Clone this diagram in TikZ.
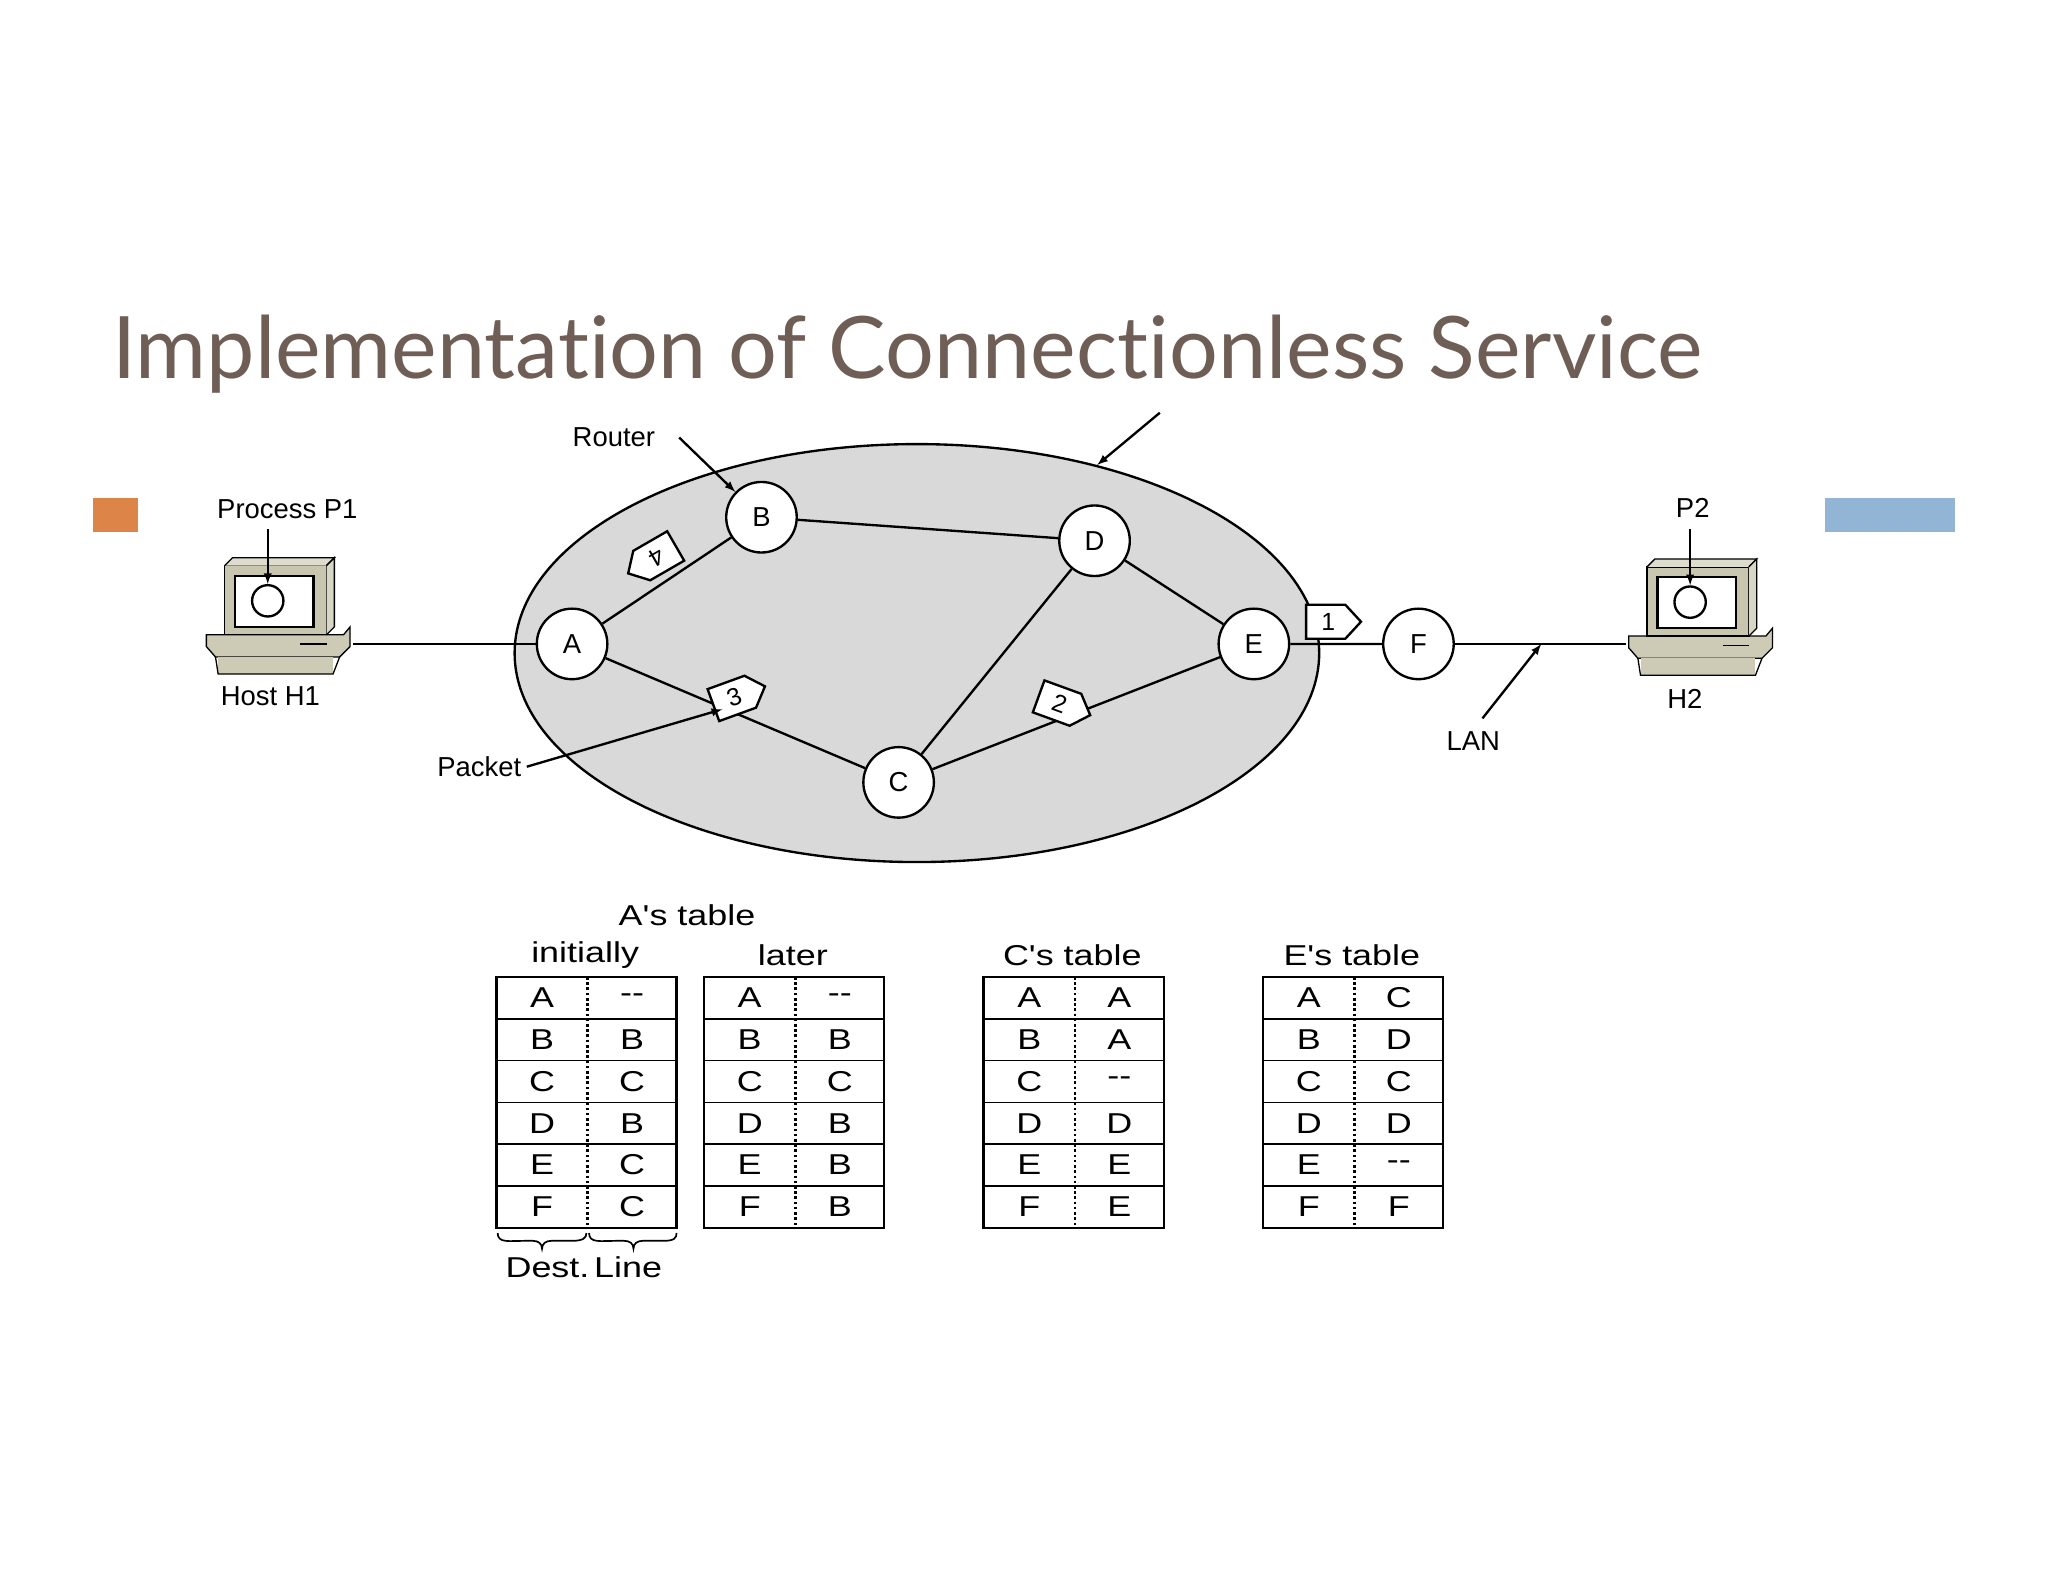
\documentclass[tikz,border=0pt]{standalone}
\usepackage{fontspec}
\setmainfont{Liberation Sans}
\newfontfamily\titlefont[Ligatures={NoCommon,NoRare,NoContextual}]{Lato}
\newfontfamily\widefont[FakeStretch=1.25]{Liberation Sans}
\begin{document}
\begin{tikzpicture}[x=1pt,y=-1pt,line width=1.8pt,
  rtr/.style={circle,draw,line width=1.8pt,fill=white,minimum size=54pt,inner sep=0pt,font=\fontsize{21}{21}\selectfont},
  lbl/.style={font=\fontsize{21}{21}\selectfont},
  tb/.style={font=\widefont\fontsize{22}{22}\selectfont},
  arr/.style={line width=1.8pt,-latex}]
\useasboundingbox (0,0) rectangle (1568,1211);
\definecolor{titlec}{HTML}{6F5E55}
\node[anchor=base west,inner sep=0,text=titlec,font=\titlefont\fontsize{66}{66}\selectfont] (title) at (85,290) {Implementation of Connectionless Service};
\fill[orange!70!brown!90!white] (71,381) rectangle (106,407);
\fill[blue!20!cyan!15!gray!55!white] (1397,381) rectangle (1497,407);
\definecolor{sq}{HTML}{DD8449}\fill[sq] (71,381) rectangle (106,407);
\definecolor{bq}{HTML}{93B5D5}\fill[bq] (1397,381) rectangle (1497,407);
\draw[fill=gray!30] (702,500) ellipse [x radius=308, y radius=160];
\node[rtr] (A) at (438,493) {A};
\node[rtr] (B) at (583,396) {B};
\node[rtr] (D) at (838,414) {D};
\node[rtr] (E) at (960,493) {E};
\node[rtr] (C) at (688,599) {C};
\node[rtr] (F) at (1086,493) {F};
\draw (A)--(B) (B)--(D) (D)--(E) (D)--(C) (A)--(C) (C)--(E) (E)--(F);
\newcommand{\computer}[3]{%
 \begin{scope}[shift={(#1,#2)},line width=1pt]
 \draw[fill=olive!25!gray!45] (-47,26)--(58,26)--(63,20)--(63,35)--(55,43)--(-40,43)--(-47,35)--cycle;
 \fill[olive!25!gray!45] (-38,43) rectangle (50,56);
 \draw (-40,43)--(-38,56)--(50,56)--(55,43);
 \draw (25,33)--(45,33);
 \draw[fill=olive!25!gray!50] (-33,-27) rectangle (45,26);
 \draw[fill=olive!25!gray!30] (-33,-27)--(-27,-33)--(51,-33)--(45,-27);
 \draw[fill=olive!25!gray!35] (45,-27)--(51,-33)--(51,20)--(45,26);
 \draw[fill=white,line width=1.8pt] (-25,-19) rectangle (35,20);
 \node[circle,draw,line width=1.8pt,minimum size=24pt,inner sep=0] (#3) at (0,0) {};
 \end{scope}}
\computer{205}{460}{s1}
\computer{1294}{461}{s2}
\coordinate (h1r) at (270,493);
\coordinate (h2l) at (1245,493);
\draw (h1r)--(A);
\draw (F)--(h2l);
\node[lbl] (p1) at (220,390) {Process P1};
\draw[arr] (205,405)--(s1);
\node[lbl] (hh1) at (207,533) {Host H1};
\node[lbl] (p2) at (1296,389) {P2};
\draw[arr] (1294,405)--(s2);
\node[lbl] (hh2) at (1290,535) {H2};
\newcommand{\packet}[4]{%
 \begin{scope}[shift={(#1,#2)},rotate=#3,transform shape]
 \draw[fill=white] (-20,-13)--(10,-13)--(22,0)--(10,13)--(-20,13)--cycle;
 \node[lbl,font=\fontsize{19}{19}\selectfont] at (-3,0) {#4};
 \end{scope}}
\packet{500}{428}{-150}{4}
\packet{565}{533}{20}{3}
\packet{814}{540}{-20}{2}
\packet{1020}{476}{0}{1}
\node[lbl] (router) at (470,335) {Router};
\draw[arr] (520,335)--(B);
\coordinate (sub1) at (888,316);
\coordinate (sub2) at (840,356);
\draw[arr] (sub1)--(sub2);
\node[lbl] (pkt) at (367,587) {Packet};
\coordinate (pk) at (553,543);
\draw[arr] (pkt.east)--(pk);
\node[lbl] (lan) at (1128,567) {LAN};
\coordinate (lanp) at (1180,493);
\draw[arr] (1135,550)--(lanp);
\newcommand{\rtable}[2]{%
 \begin{scope}[shift={(#1,748)}]
 \draw (0,0) rectangle (138,192);
 \foreach \i in {1,...,5} \draw[line width=1.2pt] (0,32*\i)--(138,32*\i);
 \draw[dotted,line width=2pt] (70,0)--(70,192);
 \foreach \d/\l [count=\k] in {#2} {
  \node[tb] at (35,32*\k-16) {\d};
  \node[tb] at (104,32*\k-16) {\l};}
 \end{scope}}
\rtable{380}{A/--,B/B,C/C,D/B,E/C,F/C}
\rtable{539}{A/--,B/B,C/C,D/B,E/B,F/B}
\rtable{753}{A/A,B/A,C/--,D/D,E/E,F/E}
\rtable{967}{A/C,B/D,C/C,D/D,E/--,F/F}
\node[tb] (ah) at (526,701) {A's table};
\node[tb] (ini) at (448,731) {initially};
\node[tb] (lat) at (607,731) {later};
\node[tb] (ch) at (821,731) {C's table};
\node[tb] (eh) at (1035,731) {E's table};
\begin{scope}[line width=1.3pt]
\draw (381,944) .. controls (381,952) and (390,950) .. (402,950) -- (408,950) .. controls (412,950) and (415,952) .. (415,956) .. controls (415,952) and (418,950) .. (422,950) -- (438,950) .. controls (446,950) and (449,948) .. (449,944);
\draw (451,944) .. controls (451,952) and (460,950) .. (472,950) -- (478,950) .. controls (482,950) and (485,952) .. (485,956) .. controls (485,952) and (488,950) .. (492,950) -- (508,950) .. controls (516,950) and (518,948) .. (518,944);
\end{scope}
\node[tb] (dl) at (447,970) {Dest.\,Line};
\end{tikzpicture}
\end{document}
